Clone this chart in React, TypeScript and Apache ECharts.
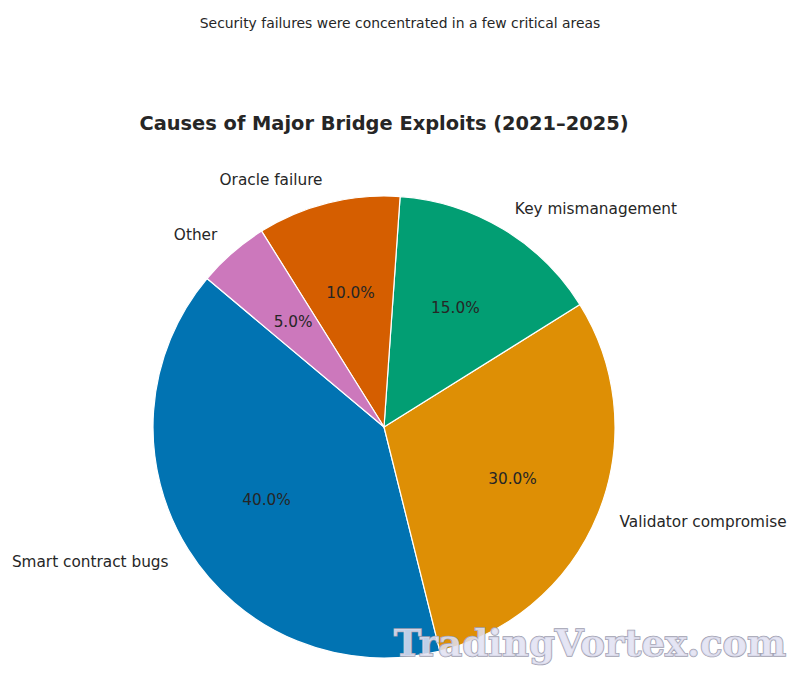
import React, { useEffect, useRef } from "react";
import * as echarts from "echarts";

const categories = [
  "Smart contract bugs",
  "Validator compromise",
  "Key mismanagement",
  "Oracle failure",
  "Other",
];
const shares = [40, 30, 15, 10, 5];
const colors = ["#0173b2", "#de8f05", "#029e73", "#d55e00", "#cc78bc"];

const TITLE = "Causes of Major Bridge Exploits (2021–2025)";
const SUBTITLE = "Security failures were concentrated in a few critical areas";
const WATERMARK = "TradingVortex.com";

export default function App() {
  const ref = useRef<HTMLDivElement>(null);
  useEffect(() => {
    if (!ref.current) return;
    const chart = echarts.init(ref.current, null, { renderer: "svg" });
    const R = 231;
    const cx = 384;
    const cy = 427;
    const font = "'DejaVu Sans', sans-serif";
    const data = categories.map((name, i) => ({
      name,
      value: shares[i],
      itemStyle: { color: colors[i] },
    }));
    const total = shares.reduce((a, b) => a + b, 0);
    chart.setOption({
      animation: false,
      backgroundColor: "#ffffff",
      title: [
        {
          text: SUBTITLE,
          left: 400,
          top: 16,
          padding: 0,
          textAlign: "center",
          textStyle: {
            fontFamily: font,
            fontSize: 13.9,
            fontWeight: "normal",
            color: "#262626",
          },
        },
        {
          text: TITLE,
          left: cx,
          top: 114,
          padding: 0,
          textAlign: "center",
          textStyle: {
            fontFamily: font,
            fontSize: 19.4,
            fontWeight: "bold",
            color: "#262626",
          },
        },
      ],
      series: [
        {
          type: "pie",
          center: [cx, cy],
          radius: [0, R],
          startAngle: 140,
          clockwise: false,
          avoidLabelOverlap: false,
          silent: true,
          itemStyle: { borderColor: "#ffffff", borderWidth: 1.2 },
          label: {
            show: true,
            position: "outside",
            distanceToLabelLine: 0,
            fontFamily: font,
            fontSize: 15.3,
            color: "#262626",
            formatter: "{b}",
          },
          labelLine: { show: false, length: 0.1 * R, length2: 0 },
          emphasis: { disabled: true },
          data,
        },
        {
          type: "pie",
          center: [cx, cy],
          radius: [0, 1.2 * R - 6],
          startAngle: 140,
          clockwise: false,
          avoidLabelOverlap: false,
          silent: true,
          itemStyle: { color: "rgba(0,0,0,0)", borderWidth: 0 },
          label: {
            show: true,
            position: "inside",
            fontFamily: font,
            fontSize: 15.3,
            color: "#262626",
            formatter: (p: any) => ((p.value / total) * 100).toFixed(1) + "%",
          },
          labelLine: { show: false },
          emphasis: { disabled: true },
          data: categories.map((name, i) => ({
            name,
            value: shares[i],
            itemStyle: { color: "rgba(0,0,0,0)" },
          })),
        },
      ],
      graphic: [
        {
          type: "text",
          right: 13,
          top: 624,
          z: 100,
          style: {
            text: WATERMARK,
            fontFamily: "'DejaVu Serif', serif",
            fontSize: 37,
            fontWeight: "bold",
            fill: "rgba(225,225,242,0.85)",
            stroke: "#a0a0b0",
            lineWidth: 1.5,
          },
        },
      ],
    });
    return () => chart.dispose();
  }, []);
  return (
    <div
      ref={ref}
      style={{ position: "fixed", left: 0, top: 0, width: 800, height: 692 }}
    />
  );
}
